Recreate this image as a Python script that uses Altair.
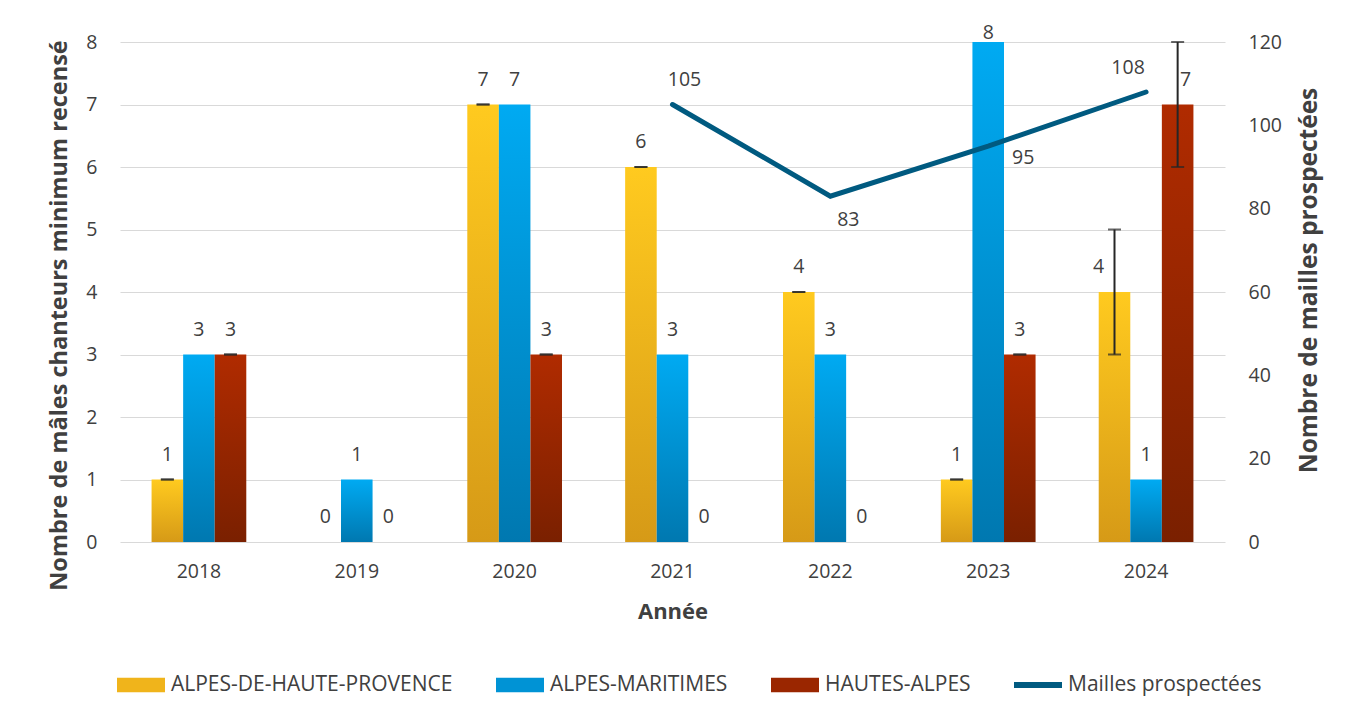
import altair as alt
import pandas as pd

years = ["2018", "2019", "2020", "2021", "2022", "2023", "2024"]
series = ["ALPES-DE-HAUTE-PROVENCE", "ALPES-MARITIMES", "HAUTES-ALPES"]
ahp = [1, 0, 7, 6, 4, 1, 4]
am = [3, 1, 7, 3, 3, 8, 1]
ha = [3, 0, 3, 0, 0, 3, 7]
ahp_lo = [1, None, 7, 6, 4, 1, 3]
ahp_hi = [1, None, 7, 6, 4, 1, 5]
ha_lo = [3, None, 3, None, None, 3, 6]
ha_hi = [3, None, 3, None, None, 3, 8]
mailles = [None, None, None, 105, 83, 95, 108]
line_name = "Mailles prospectées"

rows = []
for name, vals, lo, hi in [
    (series[0], ahp, ahp_lo, ahp_hi),
    (series[1], am, [None] * 7, [None] * 7),
    (series[2], ha, ha_lo, ha_hi),
]:
    for y, v, l, h in zip(years, vals, lo, hi):
        rows.append({"year": y, "series": name, "value": v, "lo": l, "hi": h})
bars_df = pd.DataFrame(rows)
line_df = pd.DataFrame({"year": years, "mailles": mailles}).dropna()
legend_df = pd.DataFrame({"series": series + [line_name]})

FONT = "Open Sans"
TXT = "#404040"

x_enc = alt.X("year:N", sort=years,
              scale=alt.Scale(paddingInner=0, paddingOuter=0),
              axis=alt.Axis(title="Année", labelAngle=0, domain=False, ticks=False,
                            labelPadding=20, titlePadding=21, labelFontSize=19.5,
                            titleFontSize=22, titleFontWeight="bold"))
xoff = alt.XOffset("series:N", sort=series,
                   scale=alt.Scale(domain=series, paddingInner=0, paddingOuter=1))
ytitle = "Nombre de mâles chanteurs minimum recensé"
yscale = alt.Scale(domain=[0, 8], nice=False)
yaxis = alt.Axis(title=ytitle, values=list(range(0, 9)), grid=True, gridColor="#D9D9D9",
                 domain=False, ticks=False, labelPadding=23, titlePadding=14,
                 labelFontSize=19.5, titleFontSize=23.5, titleFontWeight="bold",
                 titleY=273)


def grad(top, bottom):
    return alt.LinearGradient(gradient="linear", x1=0, y1=0, x2=0, y2=1,
                              stops=[alt.GradientStop(color=top, offset=0),
                                     alt.GradientStop(color=bottom, offset=1)])


grads = [grad("#FFCA1F", "#D69A17"), grad("#00AAF2", "#0078B0"), grad("#B02B00", "#7A2000")]
base = alt.Chart(bars_df)

bar_layers = []
for s, g in zip(series, grads):
    bar_layers.append(
        base.transform_filter(alt.datum.series == s)
        .mark_bar(color=g)
        .encode(x=x_enc, xOffset=xoff,
                y=alt.Y("value:Q", scale=yscale, axis=yaxis))
    )

err = base.transform_filter("isValid(datum.lo)")
err_rule = err.mark_rule(color="#262626", strokeWidth=2).encode(
    x=x_enc, xOffset=xoff,
    y=alt.Y("lo:Q", scale=yscale, axis=yaxis), y2="hi:Q")
cap_lo = err.mark_tick(color="#262626", size=13, thickness=2).encode(
    x=x_enc, xOffset=xoff, y=alt.Y("lo:Q", scale=yscale, axis=yaxis))
cap_hi = err.mark_tick(color="#262626", size=13, thickness=2).encode(
    x=x_enc, xOffset=xoff, y=alt.Y("hi:Q", scale=yscale, axis=yaxis))

special_a = "datum.year == '2024' && datum.series == 'ALPES-DE-HAUTE-PROVENCE'"
special_b = "datum.year == '2024' && datum.series == 'HAUTES-ALPES'"
special_c = "datum.year == '2023' && datum.series == 'ALPES-MARITIMES'"
lab_enc = dict(x=x_enc, xOffset=xoff, y=alt.Y("value:Q", scale=yscale, axis=yaxis),
               text="value:Q")
labels = base.transform_filter(
    f"!({special_a}) && !({special_b}) && !({special_c})").mark_text(
    font=FONT, fontSize=19.5, color=TXT, dy=-19, baseline="alphabetic").encode(**lab_enc)
label_a = base.transform_filter(special_a).mark_text(
    font=FONT, fontSize=19.5, color=TXT, dy=-19, dx=-16, baseline="alphabetic").encode(**lab_enc)
label_b = base.transform_filter(special_b).mark_text(
    font=FONT, fontSize=19.5, color=TXT, dy=-19, dx=8, baseline="alphabetic").encode(**lab_enc)
label_c = base.transform_filter(special_c).mark_text(
    font=FONT, fontSize=19.5, color=TXT, dy=-3, baseline="alphabetic").encode(**lab_enc)

legend_layer = alt.Chart(legend_df).transform_filter("false").mark_point(
    filled=True, opacity=1).encode(
    color=alt.Color("series:N", sort=series + [line_name],
                    scale=alt.Scale(domain=series + [line_name],
                                    range=["#F0B41B", "#0093D5", "#9A2600", "#005A80"]),
                    legend=alt.Legend(title=None, orient="none", direction="horizontal",
                                      legendX=-3, legendY=619, labelFont=FONT,
                                      labelFontSize=21, labelColor=TXT, labelLimit=400,
                                      symbolSize=2304, labelOffset=6,
                                      columnPadding=43, symbolOpacity=1,
                                      symbolStrokeWidth=0)),
    shape=alt.Shape("series:N", sort=series + [line_name],
                    scale=alt.Scale(domain=series + [line_name],
                                    range=["M-1,-0.3H1V0.3H-1Z", "M-1,-0.3H1V0.3H-1Z",
                                           "M-1,-0.3H1V0.3H-1Z", "M-1,-0.12H1V0.12H-1Z"]),
                    legend=None),
)

left = alt.layer(*bar_layers, err_rule, cap_lo, cap_hi, labels, label_a, label_b, label_c,
                 legend_layer)

y2scale = alt.Scale(domain=[0, 120], nice=False)
y2axis = alt.Axis(title="Nombre de mailles prospectées", orient="right",
                  values=list(range(0, 121, 20)), grid=False, domain=False, ticks=False,
                  labelPadding=23, titlePadding=40, labelFontSize=19.5, titleFontSize=24.5,
                  titleFontWeight="bold", titleAngle=270, titleY=238)
lbase = alt.Chart(line_df)
line = lbase.mark_line(color="#005A80", strokeWidth=5, strokeCap="round",
                       strokeJoin="miter").encode(
    x=x_enc, y=alt.Y("mailles:Q", scale=y2scale, axis=y2axis))

offsets = {"2021": (12, -25), "2022": (18, 24), "2023": (35, 12), "2024": (-18, -24)}
line_labels = []
for yr, (dx, dy) in offsets.items():
    line_labels.append(
        lbase.transform_filter(alt.datum.year == yr).mark_text(
            font=FONT, fontSize=19.5, color=TXT, dx=dx, dy=dy, baseline="middle").encode(
            x=x_enc, y=alt.Y("mailles:Q", scale=y2scale, axis=y2axis), text="mailles:Q"))

right = alt.layer(line, *line_labels)

chart = alt.layer(left, right).resolve_scale(y="independent").properties(
    width=1105, height=500,
    autosize=alt.AutoSizeParams(type="none"),
    padding={"left": 112, "top": 34, "right": 112, "bottom": 160},
).configure(font=FONT).configure_axis(
    labelFont=FONT, titleFont=FONT, labelColor=TXT, titleColor=TXT
).configure_view(stroke=None)

chart.save("out.html", embed_options={"renderer": "svg", "actions": False})
